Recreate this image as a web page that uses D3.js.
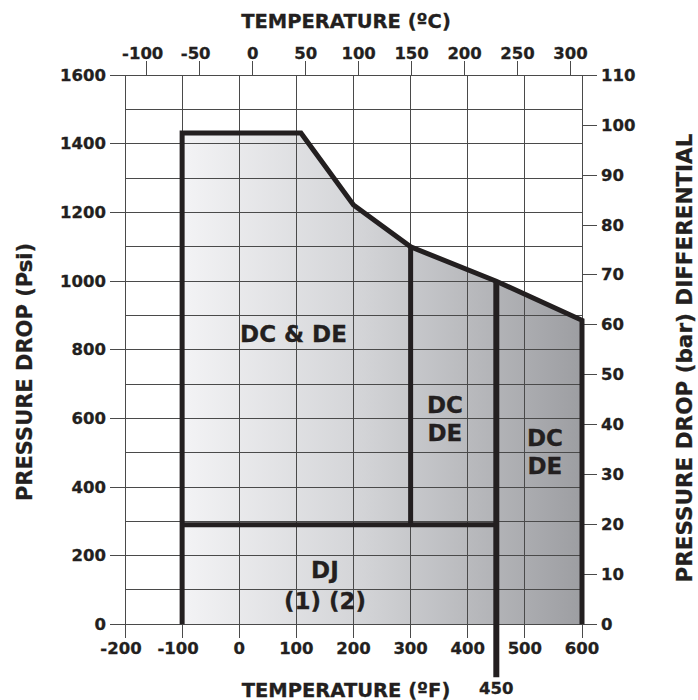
<!DOCTYPE html>
<html>
<head>
<meta charset="utf-8">
<script src="https://cdn.jsdelivr.net/npm/d3@7"></script>
<style>
  html, body { margin: 0; padding: 0; background: #ffffff; }
  svg { display: block; }
  text { font-family: "DejaVu Sans", Verdana, sans-serif; font-weight: bold; fill: #231f20; stroke: #231f20; stroke-width: 0.3px; }
</style>
</head>
<body>
<svg id="chart" width="698" height="700"></svg>
<script>
// ---------- data ----------
const fahrenheitTicks = [-200, -100, 0, 100, 200, 300, 400, 500, 600];
const celsiusTicks = [-100, -50, 0, 50, 100, 150, 200, 250, 300];
const psiTicks = [0, 200, 400, 600, 800, 1000, 1200, 1400, 1600];
const barTicks = [0, 10, 20, 30, 40, 50, 60, 70, 80, 90, 100, 110];
const psiGrid = d3.range(0, 1601, 100);

// envelope of the operating area (°F, psi)
const envelopeTemp = [-100, -100, 108, 200, 300, 450, 600, 600];
const envelopePsi  = [0, 1432, 1432, 1222, 1100, 1000, 886, 0];

// internal boundaries
const djLimitPsi = 290;            // DJ zone upper limit (20 bar)
const djLimitTemp = [-100, 450];
const dividerTemps = [300, 450];   // vertical separators
const dividerTopPsi = [1100, 1000];
const markerTemp = 450;            // line that passes below the axis
// °F values at which the -100 °C and 300 °C ticks are drawn
const celsiusAxisF = [-162, 580];

const regionLabels = [
  { lines: ["DC & DE"], t: 95, p: 845, gap: 28 },
  { lines: ["DC", "DE"], t: 360, p: 640, gap: 28 },
  { lines: ["DC", "DE"], t: 535, p: 543, gap: 28 },
  { lines: ["DJ", "(1) (2)"], t: 150, p: 158, gap: 31 }
];

// ---------- layout ----------
const svg = d3.select("#chart");
const x = d3.scaleLinear().domain([-200, 600]).range([125, 582]);
const y = d3.scaleLinear().domain([0, 1600]).range([624.3, 75.3]);
const yBar = d3.scaleLinear().domain([0, 110]).range([624.3, 75.3]);
const xC = d3.scaleLinear().domain([-100, 300]).range([x(celsiusAxisF[0]), x(celsiusAxisF[1])]);

const ink = "#231f20";
const gridColor = "#4a4a4a";

// gradient
const defs = svg.append("defs");
const grad = defs.append("linearGradient")
  .attr("id", "fillGrad")
  .attr("gradientUnits", "userSpaceOnUse")
  .attr("x1", x(-100)).attr("x2", x(600)).attr("y1", 0).attr("y2", 0);
grad.append("stop").attr("offset", "0%").attr("stop-color", "#f3f3f5");
grad.append("stop").attr("offset", "45%").attr("stop-color", "#d3d4d7");
grad.append("stop").attr("offset", "100%").attr("stop-color", "#9d9ea2");

const envelope = envelopeTemp.map((t, i) => [t, envelopePsi[i]]);
const line = d3.line().x(d => x(d[0])).y(d => y(d[1]));

// filled area
svg.append("path")
  .attr("d", line(envelope) + "Z")
  .attr("fill", "url(#fillGrad)");

// grid
const grid = svg.append("g").attr("stroke", gridColor).attr("stroke-width", 1).attr("shape-rendering", "crispEdges");
grid.selectAll("line.h").data(psiGrid).join("line")
  .attr("x1", x(-200)).attr("x2", x(600))
  .attr("y1", d => y(d)).attr("y2", d => y(d));
grid.selectAll("line.v").data(fahrenheitTicks).join("line")
  .attr("y1", y(1600)).attr("y2", y(0))
  .attr("x1", d => x(d)).attr("x2", d => x(d));

// axes
const axes = svg.append("g").attr("stroke", gridColor).attr("stroke-width", 1).attr("shape-rendering", "crispEdges");
const tickLen = 15;
axes.selectAll("line.lt").data(psiTicks).join("line")
  .attr("x1", x(-200) - tickLen).attr("x2", x(-200))
  .attr("y1", d => y(d)).attr("y2", d => y(d));
axes.selectAll("line.rt").data(barTicks).join("line")
  .attr("x1", x(600)).attr("x2", x(600) + tickLen)
  .attr("y1", d => yBar(d)).attr("y2", d => yBar(d));
axes.selectAll("line.bt").data(fahrenheitTicks).join("line")
  .attr("x1", d => x(d)).attr("x2", d => x(d))
  .attr("y1", y(0)).attr("y2", y(0) + 14);
axes.selectAll("line.tt").data(celsiusTicks).join("line")
  .attr("x1", d => xC(d)).attr("x2", d => xC(d))
  .attr("y1", y(1600) - 14).attr("y2", y(1600));

// thick boundary lines
const thick = svg.append("g").attr("fill", "none").attr("stroke", ink).attr("stroke-width", 5).attr("stroke-linejoin", "miter");
thick.append("path").attr("d", line(envelope));
thick.append("path").attr("d", line([[djLimitTemp[0], djLimitPsi], [djLimitTemp[1], djLimitPsi]]));
thick.append("line")
  .attr("x1", x(dividerTemps[0])).attr("x2", x(dividerTemps[0]))
  .attr("y1", y(djLimitPsi)).attr("y2", y(dividerTopPsi[0]));
thick.append("line")
  .attr("x1", x(markerTemp)).attr("x2", x(markerTemp))
  .attr("y1", y(0) + 53).attr("y2", y(dividerTopPsi[1]))
  .attr("stroke-width", 6);

// tick labels
const fs = 16.5;
svg.append("g").selectAll("text").data(psiTicks).join("text")
  .attr("x", x(-200) - 19).attr("y", d => y(d))
  .attr("text-anchor", "end").attr("dominant-baseline", "central")
  .attr("font-size", fs).text(d => d);
svg.append("g").selectAll("text").data(barTicks).join("text")
  .attr("x", x(600) + 19).attr("y", d => yBar(d))
  .attr("text-anchor", "start").attr("dominant-baseline", "central")
  .attr("font-size", fs).text(d => d);
svg.append("g").selectAll("text").data(fahrenheitTicks).join("text")
  .attr("x", d => x(d) - (d < 0 ? 4 : 0)).attr("y", y(0) + 24)
  .attr("text-anchor", "middle").attr("dominant-baseline", "central")
  .attr("font-size", fs).text(d => d);
svg.append("g").selectAll("text").data(celsiusTicks).join("text")
  .attr("x", d => xC(d) - (d < 0 ? 4 : 0)).attr("y", y(1600) - 22)
  .attr("text-anchor", "middle").attr("dominant-baseline", "central")
  .attr("font-size", fs).text(d => d);

// 450 marker label
svg.append("text")
  .attr("x", x(markerTemp)).attr("y", 688)
  .attr("text-anchor", "middle").attr("dominant-baseline", "central")
  .attr("font-size", fs).text(markerTemp);

// axis titles
const tfs = 19.5;
svg.append("text").attr("x", 346).attr("y", 21)
  .attr("text-anchor", "middle").attr("dominant-baseline", "central")
  .attr("font-size", tfs).text("TEMPERATURE (ºC)");
svg.append("text").attr("x", 346).attr("y", 690)
  .attr("text-anchor", "middle").attr("dominant-baseline", "central")
  .attr("font-size", tfs).text("TEMPERATURE (ºF)");
svg.append("text")
  .attr("transform", "translate(25,372) rotate(-90)")
  .attr("text-anchor", "middle").attr("dominant-baseline", "central")
  .attr("font-size", 21).text("PRESSURE DROP (Psi)");
svg.append("text")
  .attr("transform", "translate(684,358) rotate(-90)")
  .attr("text-anchor", "middle").attr("dominant-baseline", "central")
  .attr("font-size", 21.5).text("PRESSURE DROP (bar) DIFFERENTIAL");

// region labels
const lfs = 23;
regionLabels.forEach(l => {
  const g = svg.append("text")
    .attr("text-anchor", "middle")
    .attr("font-size", lfs);
  l.lines.forEach((s, i) => {
    g.append("tspan")
      .attr("x", x(l.t))
      .attr("y", y(l.p) + i * l.gap)
      .attr("dominant-baseline", "central")
      .text(s);
  });
});
</script>
</body>
</html>
